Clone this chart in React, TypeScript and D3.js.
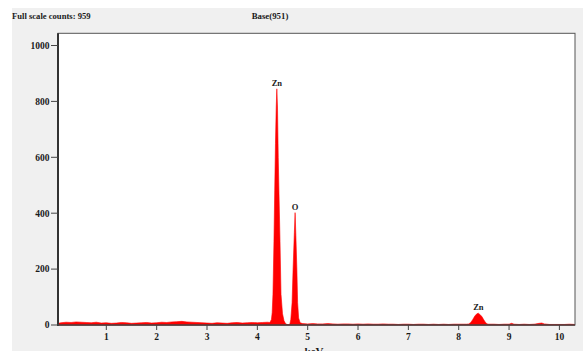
import React from "react";
import * as d3 from "d3";

const W = 583;
const H = 351;

const headerLeft = "Full scale counts: 959";
const headerCenter = "Base(951)";
const xLabel = "keV";
const xTicks = [1, 2, 3, 4, 5, 6, 7, 8, 9, 10];
const yTicks = [0, 200, 400, 600, 800, 1000];

// [keV, counts]
const lowBackground: [number, number][] = [
  [0.04, 6], [0.1, 8], [0.2, 10], [0.3, 9], [0.4, 11], [0.5, 10], [0.6, 9], [0.7, 8],
  [0.8, 10], [0.9, 7], [1.0, 8], [1.1, 6], [1.2, 7], [1.3, 9], [1.4, 8], [1.5, 6],
  [1.6, 7], [1.7, 8], [1.8, 9], [1.9, 7], [2.0, 8], [2.1, 10], [2.2, 9], [2.3, 11],
  [2.4, 12], [2.5, 13], [2.6, 11], [2.7, 10], [2.8, 9], [2.9, 8], [3.0, 7], [3.1, 6],
  [3.2, 8], [3.3, 7], [3.4, 6], [3.5, 8], [3.6, 9], [3.7, 7], [3.8, 8], [3.9, 9],
  [4.0, 8], [4.1, 9], [4.2, 10], [4.25, 9],
];
const znLPeak: [number, number][] = [
  [4.28, 20], [4.295, 45], [4.31, 110], [4.33, 300], [4.345, 480], [4.36, 650],
  [4.375, 780], [4.387, 845], [4.4, 780], [4.415, 600], [4.43, 470], [4.45, 300],
  [4.47, 110], [4.5, 40], [4.53, 15], [4.56, 5], [4.59, 2], [4.62, 1],
];
const oPeak: [number, number][] = [
  [4.645, 3], [4.665, 20], [4.69, 80], [4.71, 200], [4.735, 330], [4.75, 402],
  [4.765, 320], [4.785, 200], [4.8, 80], [4.82, 25], [4.85, 8],
];
const midBackground: [number, number][] = [
  [4.9, 5], [5.0, 4], [5.1, 5], [5.2, 4], [5.3, 4], [5.4, 5], [5.5, 4], [5.6, 3],
  [5.7, 4], [5.8, 4], [5.9, 3], [6.0, 4], [6.1, 3], [6.2, 4], [6.3, 3], [6.4, 3],
  [6.5, 4], [6.6, 3], [6.7, 3], [6.8, 2], [6.9, 3], [7.0, 3], [7.1, 2], [7.2, 3],
  [7.3, 3], [7.4, 2], [7.5, 3], [7.6, 2], [7.7, 3], [7.8, 2], [7.9, 3], [8.0, 3],
  [8.1, 3], [8.16, 3],
];
const znKPeak: [number, number][] = [
  [8.2, 4], [8.24, 9], [8.28, 20], [8.32, 32], [8.36, 40], [8.39, 42], [8.42, 38],
  [8.46, 30], [8.5, 18], [8.54, 7], [8.58, 3],
];
const highBackground: [number, number][] = [
  [8.7, 3], [8.8, 2], [8.9, 3], [9.0, 3], [9.05, 6], [9.1, 3], [9.2, 2], [9.3, 3],
  [9.4, 2], [9.5, 3], [9.6, 6], [9.65, 7], [9.7, 4], [9.8, 2], [9.9, 2], [10.0, 2],
  [10.1, 2], [10.2, 3], [10.3, 2],
];

const peakLabels: { name: string; kev: number; counts: number }[] = [
  { name: "Zn", kev: 4.387, counts: 845 },
  { name: "O", kev: 4.75, counts: 402 },
  { name: "Zn", kev: 8.39, counts: 42 },
];

const spectrum: [number, number][] = [
  ...lowBackground,
  ...znLPeak,
  ...oPeak,
  ...midBackground,
  ...znKPeak,
  ...highBackground,
].sort((a, b) => a[0] - b[0]);

const left = 58;
const right = 575;
const top = 33.3;
const bottom = 325;

const x = d3.scaleLinear().domain([0.04, 10.31]).range([left, right]);
const y = d3.scaleLinear().domain([0, 1000]).range([bottom, 45.5]);

const FONT = "'Liberation Serif', 'Times New Roman', serif";

export default function App() {
  const area = d3
    .area<[number, number]>()
    .x((d) => x(d[0]))
    .y0(bottom)
    .y1((d) => y(d[1]))
    .curve(d3.curveLinear)(spectrum) as string;

  return (
    <svg
      width={W}
      height={H}
      style={{ position: "fixed", left: 0, top: 0, display: "block" }}
      fontFamily={FONT}
    >
      <rect x={0} y={0} width={W} height={H} fill="#ffffff" />
      <rect x={12} y={8} width={W - 12} height={H - 8} fill="#f0f0f0" />
      <text x={12} y={19} fontSize={8.6} fontWeight="bold" fill="#1a1a1a">
        {headerLeft}
      </text>
      <text x={270} y={19} fontSize={8.8} fontWeight="bold" fill="#1a1a1a" textAnchor="middle">
        {headerCenter}
      </text>
      <rect x={left} y={top} width={right - left} height={bottom - top} fill="#ffffff" stroke="#555" strokeWidth={1} />
      <path d={area} fill="#ff0000" stroke="#ff0000" strokeWidth={0.6} />
      {peakLabels.map((p, i) => (
        <text
          key={i}
          x={x(p.kev)}
          y={y(p.counts) - 3}
          fontSize={8.5}
          fontWeight="bold"
          fill="#1a1a1a"
          textAnchor="middle"
        >
          {p.name}
        </text>
      ))}
      <line x1={left} x2={left} y1={top} y2={bottom + 1} stroke="#333" strokeWidth={2} />
      <line x1={left} x2={right} y1={bottom} y2={bottom} stroke="#444" strokeWidth={1.5} />
      {yTicks.map((t) => (
        <g key={t}>
          <line x1={left - 7} x2={left} y1={y(t)} y2={y(t)} stroke="#444" strokeWidth={1} />
          <text
            x={left - 8.5}
            y={y(t) + 3.3}
            fontSize={9.5}
            fontWeight="bold"
            fill="#1a1a1a"
            textAnchor="end"
          >
            {t}
          </text>
        </g>
      ))}
      {xTicks.map((t) => (
        <g key={t}>
          <line x1={x(t)} x2={x(t)} y1={bottom} y2={bottom + 5} stroke="#444" strokeWidth={1} />
          <text x={x(t)} y={339.5} fontSize={9.5} fontWeight="bold" fill="#1a1a1a" textAnchor="middle">
            {t}
          </text>
        </g>
      ))}
      <text x={314} y={355} fontSize={11} fontWeight="bold" fill="#1a1a1a" textAnchor="middle">
        {xLabel}
      </text>
    </svg>
  );
}
